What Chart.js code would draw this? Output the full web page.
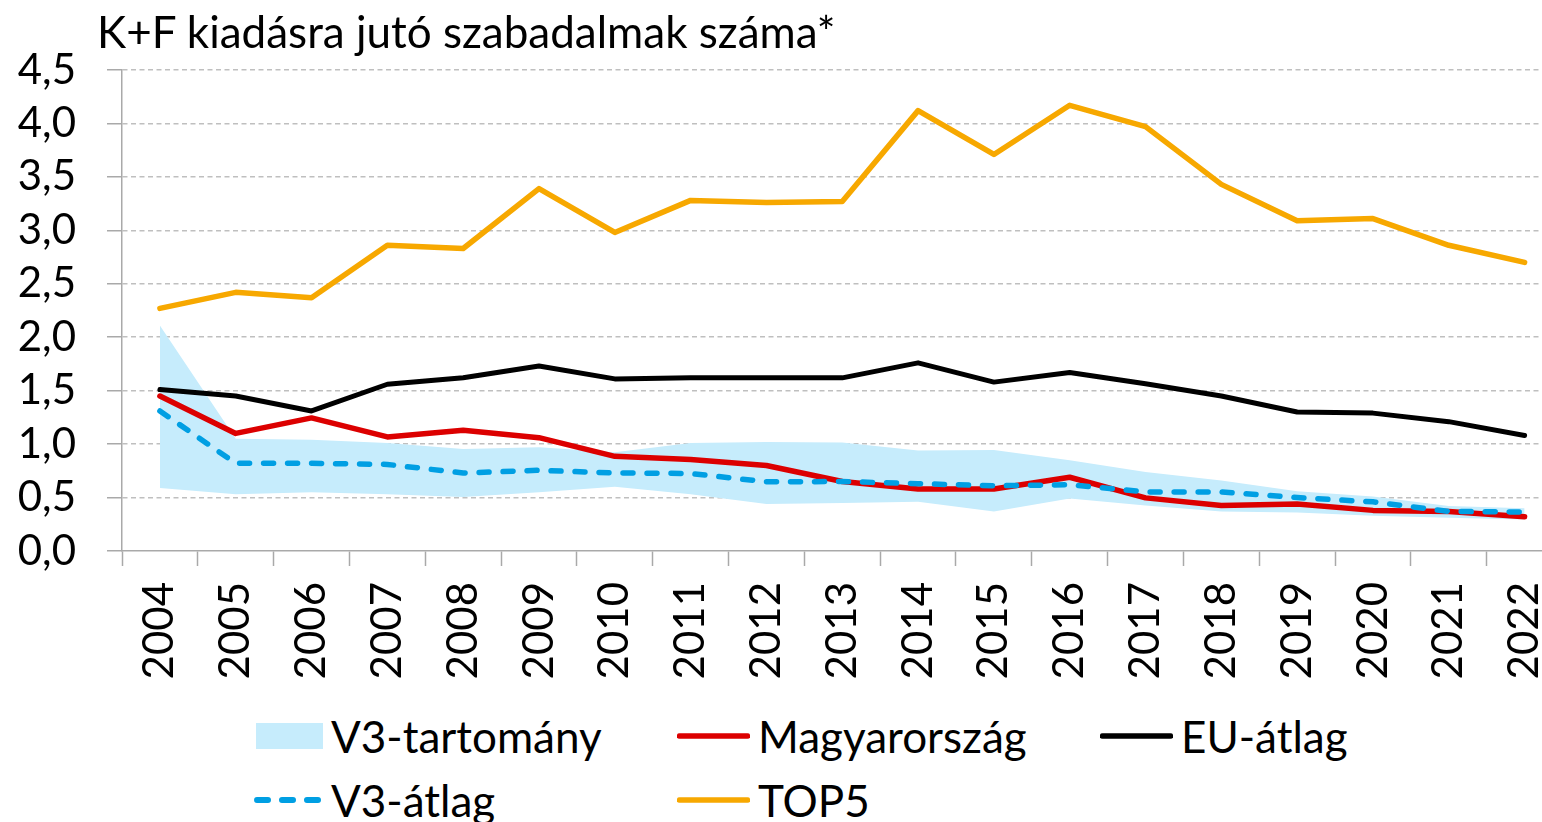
<!DOCTYPE html>
<html lang="hu">
<head>
<meta charset="utf-8">
<script src="https://cdn.jsdelivr.net/npm/chart.js@4.4.0/dist/chart.umd.min.js"></script>
<style>
  html, body { margin: 0; padding: 0; background: #fff; overflow: hidden; width: 1542px; height: 822px; }
  #wrap { position: absolute; left: 0; top: 0; width: 1591px; height: 700px; }
  #title { position: absolute; left: 97px; top: 5px; font: 44px Lato, sans-serif; line-height: 52px; color: #000; white-space: nowrap; }
  .item { position: absolute; height: 64px; display: flex; align-items: center; font: 44px Lato, sans-serif; color: #000; white-space: nowrap; }
  .item svg { margin-right: 8px; flex: none; }
</style>
</head>
<body>
<div id="wrap"><canvas id="chart" width="1591" height="700"></canvas></div>
<div id="title">K+F kiadásra jutó szabadalmak száma*</div>
<div id="legend"></div>
<script>
const years = ['2004', '2005', '2006', '2007', '2008', '2009', '2010', '2011', '2012', '2013',
  '2014', '2015', '2016', '2017', '2018', '2019', '2020', '2021', '2022'];
const yTickLabels = ['0,0', '0,5', '1,0', '1,5', '2,0', '2,5', '3,0', '3,5', '4,0', '4,5'];

const top5 = [2.27, 2.42, 2.37, 2.86, 2.83, 3.39, 2.98, 3.28, 3.26, 3.27, 4.12, 3.71, 4.17, 3.97, 3.43, 3.09, 3.11, 2.86, 2.70];
const euAtlag = [1.51, 1.45, 1.31, 1.56, 1.62, 1.73, 1.61, 1.62, 1.62, 1.62, 1.76, 1.58, 1.67, 1.565, 1.45, 1.30, 1.29, 1.21, 1.08];
const magyarorszag = [1.45, 1.10, 1.245, 1.067, 1.13, 1.06, 0.886, 0.855, 0.80, 0.65, 0.58, 0.58, 0.69, 0.497, 0.425, 0.44, 0.38, 0.37, 0.32];
const v3Atlag = [1.31, 0.82, 0.82, 0.81, 0.73, 0.755, 0.73, 0.725, 0.647, 0.65, 0.63, 0.61, 0.62, 0.553, 0.553, 0.50, 0.46, 0.37, 0.365];
const v3Max = [2.11, 1.05, 1.04, 1.01, 0.955, 0.97, 0.925, 1.01, 1.02, 1.015, 0.94, 0.945, 0.85, 0.74, 0.66, 0.56, 0.51, 0.42, 0.40];
const v3Min = [0.59, 0.53, 0.55, 0.53, 0.505, 0.55, 0.60, 0.53, 0.44, 0.45, 0.46, 0.37, 0.49, 0.425, 0.37, 0.36, 0.33, 0.31, 0.295];

const BAND = '#C6ECFC';
const RED = '#DC0000';
const BLACK = '#000000';
const BLUE = '#009FE3';
const ORANGE = '#F7A800';
const AXIS = '#A9A9A9';

const FONT = 'Lato, sans-serif';

function line(label, data, color, order, extra) {
  return Object.assign({
    label, data, borderColor: color, borderWidth: 5.5, pointRadius: 0,
    fill: false, tension: 0, order,
    borderJoinStyle: 'round', borderCapStyle: 'round'
  }, extra || {});
}

const chart = new Chart(document.getElementById('chart'), {
  type: 'line',
  data: {
    labels: years,
    datasets: [
      { label: 'V3-min', data: v3Min, borderWidth: 0, borderColor: 'rgba(0,0,0,0)', pointRadius: 0, fill: false, order: 10 },
      { label: 'V3-tartomány', data: v3Max, borderWidth: 0, borderColor: 'rgba(0,0,0,0)', pointRadius: 0,
        backgroundColor: BAND, fill: '-1', order: 9 },
      line('TOP5', top5, ORANGE, 4),
      line('EU-átlag', euAtlag, BLACK, 3, { borderWidth: 5 }),
      line('Magyarország', magyarorszag, RED, 2),
      line('V3-átlag', v3Atlag, BLUE, 1, { borderDash: [10, 14] })
    ]
  },
  options: {
    responsive: false,
    animation: false,
    events: [],
    layout: { padding: { top: 70, left: 0, right: 0, bottom: 9 } },
    plugins: {
      legend: { display: false },
      title: { display: false },
      tooltip: { enabled: false },
      filler: { propagate: false }
    },
    scales: {
      x: {
        type: 'category',
        offset: true,
        afterFit(scale) { scale.height = 140; },
        grid: {
          offset: true, drawOnChartArea: false, drawTicks: true,
          tickLength: 15, tickColor: AXIS, tickWidth: 1.5
        },
        border: { display: true, color: AXIS, width: 1.5 },
        ticks: {
          autoSkip: false, minRotation: 90, maxRotation: 90, padding: 16,
          color: '#000', font: { family: FONT, size: 42 }
        }
      },
      y: {
        min: 0, max: 4.5,
        afterFit(scale) { scale.width = 122; },
        grid: {
          color: (ctx) => ctx.index === 0 ? 'rgba(0,0,0,0)' : '#BFBFBF',
          lineWidth: 1.5, drawTicks: true, tickLength: 15, tickColor: AXIS, tickWidth: 1.5
        },
        border: { display: true, color: AXIS, width: 1.5, dash: [5, 3.5] },
        ticks: {
          stepSize: 0.5, padding: 31, color: '#000',
          font: { family: FONT, size: 42 },
          callback: (v, i) => yTickLabels[i]
        }
      }
    }
  }
});

// legend built from the datasets, laid out in the reference's two-row grid
const legendItems = [
  { label: 'V3-tartomány', kind: 'box', color: BAND, left: 256, top: 704 },
  { label: 'Magyarország', kind: 'line', color: RED, left: 677, top: 704 },
  { label: 'EU-átlag', kind: 'line', color: BLACK, left: 1100, top: 704 },
  { label: 'V3-átlag', kind: 'dash', color: BLUE, left: 252, top: 768 },
  { label: 'TOP5', kind: 'line', color: ORANGE, left: 677, top: 768 }
];

function marker(item) {
  if (item.kind === 'box') {
    return `<svg width="67" height="26"><rect x="0" y="0" width="67" height="26" fill="${item.color}"/></svg>`;
  }
  if (item.kind === 'dash') {
    return `<svg width="71" height="10"><line x1="5" y1="5" x2="66" y2="5" stroke="${item.color}" stroke-width="6"
      stroke-linecap="round" stroke-dasharray="11 14"/></svg>`;
  }
  return `<svg width="73" height="10"><line x1="2.5" y1="5" x2="70.5" y2="5" stroke="${item.color}" stroke-width="5.5"
    stroke-linecap="round"/></svg>`;
}

document.getElementById('legend').innerHTML = legendItems.map(item =>
  `<div class="item" style="left:${item.left}px;top:${item.top}px">${marker(item)}<span>${item.label}</span></div>`
).join('');
</script>
</body>
</html>
